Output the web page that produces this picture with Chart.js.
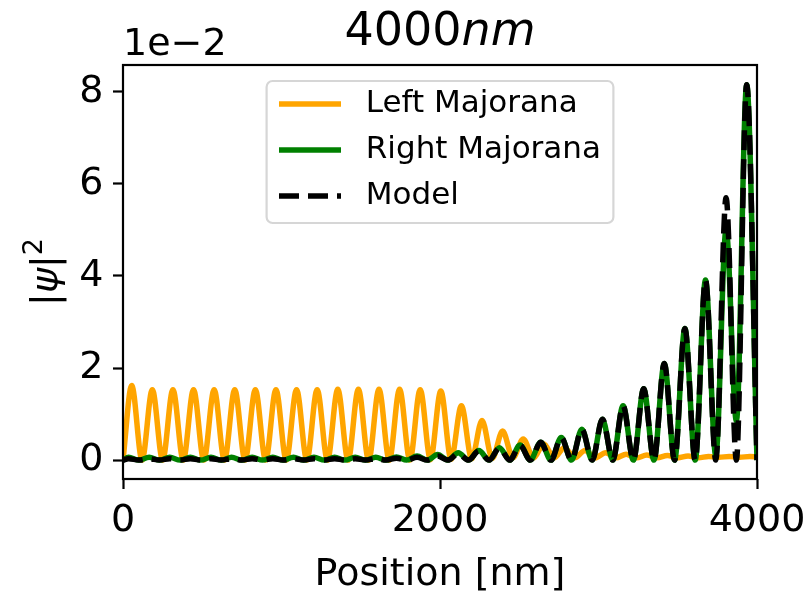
<!DOCTYPE html>
<html>
<head>
<meta charset="utf-8">
<script src="https://cdn.jsdelivr.net/npm/chart.js@4.4.0/dist/chart.umd.min.js"></script>
<style>
  html, body { margin: 0; padding: 0; background: #fff; }
  canvas { display: block; }
</style>
</head>
<body>
<canvas id="chart" width="807" height="592"></canvas>
<script>
// |psi|^2 values in units of 1e-2 (peaks and troughs)
const leftPos = [0, 55, 120, 185, 250, 315, 380, 445, 510, 575, 640, 705, 770, 835, 900, 965, 1030,
  1095, 1160, 1225, 1290, 1355, 1420, 1485, 1550, 1615, 1680, 1745, 1810, 1875, 1940, 2005, 2070,
  2135, 2200, 2265, 2330, 2395, 2460, 2525, 2590, 2655, 2720, 2785, 2850, 2915, 2980, 3045, 3110,
  3175, 3240, 3305, 3370, 3435, 3500, 3565, 3630, 3695, 3760, 3825, 3890, 3955, 4000];
const leftMajorana = [0, 1.62, 0, 1.53, 0, 1.53, 0, 1.53, 0, 1.53, 0, 1.53, 0, 1.53, 0, 1.53, 0,
  1.53, 0, 1.53, 0, 1.54, 0, 1.54, 0, 1.54, 0, 1.54, 0, 1.53, 0.01, 1.50, 0.02,
  1.18, 0.03, 0.86, 0.04, 0.63, 0.05, 0.46, 0.05, 0.35, 0.05, 0.27, 0.05, 0.21, 0.05, 0.16, 0.05,
  0.13, 0.05, 0.11, 0.05, 0.10, 0.05, 0.09, 0.05, 0.08, 0.06, 0.08, 0.06, 0.08, 0.07];

const rightPos = [0, 35, 100, 165, 230, 295, 360, 425, 490, 555, 620, 685, 750, 815, 880, 945, 1010,
  1075, 1140, 1205, 1270, 1335, 1400, 1465, 1530, 1595, 1660, 1725, 1790, 1855, 1920, 1985, 2050,
  2115, 2180, 2245, 2310, 2375, 2440, 2505, 2570, 2635, 2700, 2765, 2830, 2895, 2960, 3025, 3090,
  3155, 3220, 3285, 3350, 3415, 3480, 3545, 3610, 3675, 3740, 3805, 3870, 3935, 4000];
const rightMajorana = [0, 0.06, 0, 0.06, 0, 0.06, 0, 0.06, 0, 0.06, 0, 0.06, 0, 0.06, 0, 0.06, 0,
  0.06, 0, 0.06, 0, 0.06, 0, 0.06, 0, 0.06, 0, 0.07, 0, 0.09, 0, 0.12, 0,
  0.16, 0, 0.21, 0, 0.27, 0, 0.33, 0, 0.39, 0, 0.49, 0, 0.67, 0, 0.89, 0,
  1.18, 0, 1.55, 0, 2.10, 0, 2.86, 0, 3.91, 0.10, 5.01, 0.85, 8.15, 0];
const model = [0, 0.03, 0, 0.03, 0, 0.03, 0, 0.03, 0, 0.03, 0, 0.03, 0, 0.03, 0, 0.03, 0,
  0.03, 0, 0.03, 0, 0.03, 0, 0.03, 0, 0.03, 0, 0.04, 0, 0.06, 0, 0.09, 0,
  0.14, 0, 0.20, 0, 0.26, 0, 0.32, 0, 0.39, 0, 0.49, 0, 0.67, 0, 0.89, 0,
  1.18, 0, 1.55, 0, 2.10, 0, 2.86, 0, 3.91, 0, 5.70, 0, 8.15, 0];

const xTicks = [0, 2000, 4000];
const yTicks = [0, 2, 4, 6, 8];

const FONT = "'DejaVu Sans'";
Chart.defaults.font.family = FONT;
Chart.defaults.color = '#000';

function points(xs, ys) {
    return xs.map((x, i) => ({ x: x, y: ys[i] }));
}

// draw a row of text pieces with different fonts / baselines
function drawRuns(ctx, runs, x, y, align) {
    let total = 0;
    runs.forEach(r => { ctx.font = r.font; r.w = ctx.measureText(r.text).width; total += r.w; });
    let cx = align === 'center' ? x - total / 2 : x;
    runs.forEach(r => {
        ctx.font = r.font;
        ctx.fillText(r.text, cx, y - (r.rise || 0));
        cx += r.w;
    });
}

const decorations = {
    id: 'decorations',
    afterDatasetsDraw(chart) {
        const ctx = chart.ctx;
        const a = chart.chartArea;
        ctx.save();
        ctx.strokeStyle = '#000';
        ctx.lineWidth = 2.2;
        ctx.strokeRect(a.left, a.top, a.right - a.left, a.bottom - a.top);
        ctx.restore();
    },
    afterDraw(chart) {
        const ctx = chart.ctx;
        const a = chart.chartArea;
        const cx = (a.left + a.right) / 2;
        ctx.save();
        ctx.fillStyle = '#000';
        ctx.textBaseline = 'alphabetic';
        ctx.textAlign = 'left';

        // title
        drawRuns(ctx, [
            { text: '4000', font: `46px ${FONT}` },
            { text: 'nm', font: `italic 46px ${FONT}` }
        ], cx, 45, 'center');

        // offset text
        drawRuns(ctx, [{ text: '1e\u22122', font: `38px ${FONT}` }], a.left, 55, 'left');

        // x label
        drawRuns(ctx, [{ text: 'Position [nm]', font: `38px ${FONT}` }], cx, 585, 'center');

        // y label
        ctx.save();
        ctx.translate(57, (a.top + a.bottom) / 2);
        ctx.rotate(-Math.PI / 2);
        drawRuns(ctx, [
            { text: '|', font: `38px ${FONT}` },
            { text: '\u03c8', font: `italic 38px ${FONT}` },
            { text: '|', font: `38px ${FONT}` },
            { text: '2', font: `27px ${FONT}`, rise: 15 }
        ], 0, 0, 'center');
        ctx.restore();

        // legend
        const fs = 31;
        const pad = 0.4 * fs, handleLen = 2 * fs, handlePad = 0.8 * fs;
        ctx.font = `${fs}px ${FONT}`;
        const sets = chart.data.datasets;
        const textW = Math.max(...sets.map(d => ctx.measureText(d.label).width));
        const w = pad * 2 + handleLen + handlePad + textW;
        const h = 142;
        const bx = cx - w / 2, by = a.top + 16, r = 6;
        ctx.beginPath();
        ctx.moveTo(bx + r, by);
        ctx.lineTo(bx + w - r, by);
        ctx.arcTo(bx + w, by, bx + w, by + r, r);
        ctx.lineTo(bx + w, by + h - r);
        ctx.arcTo(bx + w, by + h, bx + w - r, by + h, r);
        ctx.lineTo(bx + r, by + h);
        ctx.arcTo(bx, by + h, bx, by + h - r, r);
        ctx.lineTo(bx, by + r);
        ctx.arcTo(bx, by, bx + r, by, r);
        ctx.closePath();
        ctx.fillStyle = 'rgba(255,255,255,0.8)';
        ctx.fill();
        ctx.strokeStyle = '#d6d6d6';
        ctx.lineWidth = 2.2;
        ctx.stroke();

        sets.forEach((d, i) => {
            const ry = by + 23 + i * 46;
            ctx.beginPath();
            ctx.setLineDash(d.borderDash || []);
            ctx.strokeStyle = d.borderColor;
            ctx.lineWidth = d.borderWidth;
            ctx.lineCap = 'butt';
            ctx.moveTo(bx + pad, ry);
            ctx.lineTo(bx + pad + handleLen, ry);
            ctx.stroke();
            ctx.setLineDash([]);
            ctx.fillStyle = '#000';
            ctx.font = `${fs}px ${FONT}`;
            ctx.textBaseline = 'middle';
            ctx.fillText(d.label, bx + pad + handleLen + handlePad, ry);
        });
        ctx.restore();
    }
};

const tickGrid = {
    drawOnChartArea: false,
    drawTicks: true,
    tickLength: 10,
    tickWidth: 2.2,
    tickColor: '#000'
};

new Chart(document.getElementById('chart'), {
    type: 'line',
    data: {
        datasets: [
            {
                label: 'Left Majorana',
                data: points(leftPos, leftMajorana),
                borderColor: '#ffa500',
                borderWidth: 5.5,
                order: 3
            },
            {
                label: 'Right Majorana',
                data: points(rightPos, rightMajorana),
                borderColor: '#008000',
                borderWidth: 5.5,
                order: 2
            },
            {
                label: 'Model',
                data: points(rightPos, model),
                borderColor: '#000000',
                borderWidth: 5.5,
                borderDash: [20, 9],
                order: 1
            }
        ]
    },
    options: {
        responsive: false,
        animation: false,
        devicePixelRatio: 1,
        elements: {
            point: { radius: 0, hoverRadius: 0 },
            line: { cubicInterpolationMode: 'monotone', borderCapStyle: 'butt', fill: false }
        },
        layout: { padding: { left: 0, top: 65, right: 50, bottom: 0 } },
        plugins: {
            legend: { display: false },
            tooltip: { enabled: false },
            title: { display: false }
        },
        scales: {
            x: {
                type: 'linear',
                min: 0,
                max: 4000,
                afterBuildTicks: s => { s.ticks = xTicks.map(v => ({ value: v })); },
                afterFit: s => { s.height = 113; s.paddingLeft = 0; s.paddingRight = 0; },
                grid: tickGrid,
                border: { display: false },
                ticks: {
                    font: { size: 38 },
                    color: '#000',
                    padding: 9.6,
                    maxRotation: 0,
                    autoSkip: false,
                    callback: v => String(v)
                }
            },
            y: {
                type: 'linear',
                min: -0.41,
                max: 8.58,
                afterBuildTicks: s => { s.ticks = yTicks.map(v => ({ value: v })); },
                afterFit: s => { s.width = 123; s.paddingTop = 0; s.paddingBottom = 0; },
                grid: tickGrid,
                border: { display: false },
                ticks: {
                    font: { size: 38 },
                    color: '#000',
                    padding: 9.6,
                    callback: v => String(v)
                }
            }
        }
    },
    plugins: [decorations]
});
</script>
</body>
</html>
